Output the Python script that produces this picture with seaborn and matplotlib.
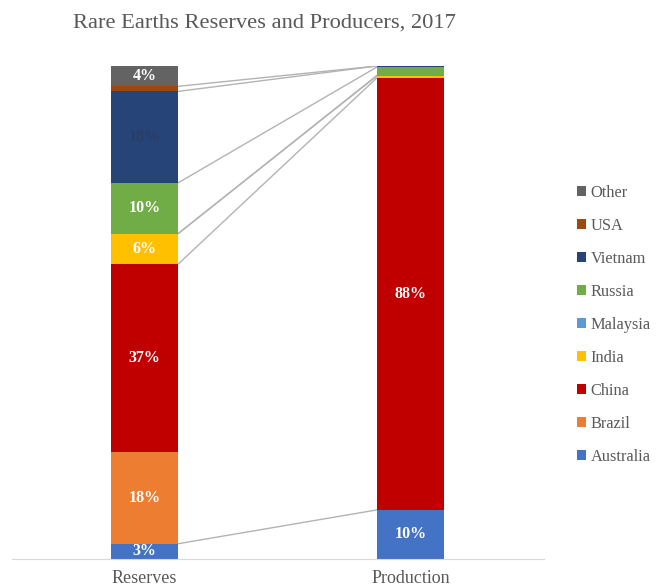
import numpy as np
import pandas as pd
import matplotlib
matplotlib.use("Agg")
import matplotlib.pyplot as plt
import seaborn as sns
from matplotlib.patches import Patch

# data: share of world total (%)
countries = ["Australia", "Brazil", "China", "India", "Malaysia", "Russia", "Vietnam", "USA", "Other"]
reserves = [3, 18, 37, 6, 0, 10, 18, 1, 4]
production = [10, 0, 88, 0.4, 0.1, 1.7, 0.2, 0, 0]
categories = ["Reserves", "Production"]
colors = ["#4472C4", "#ED7D31", "#C00000", "#FFC000", "#5B9BD5",
          "#70AD47", "#264478", "#9E480E", "#636363"]
# series lines between the two bars (none drawn for Brazil / Other)
linked = ["Australia", "China", "India", "Malaysia", "Russia", "Vietnam", "USA"]

df = pd.DataFrame({
    "Country": countries * 2,
    "Category": [categories[0]] * len(countries) + [categories[1]] * len(countries),
    "Value": reserves + production,
})
df["Pct"] = df["Value"] / df.groupby("Category")["Value"].transform("sum") * 100

sns.set_style("white")
plt.rcParams["font.family"] = ["Liberation Serif", "DejaVu Serif"]

fig = plt.figure(figsize=(6.58, 5.88), dpi=100)
ax = fig.add_axes([11.5 / 658, 29 / 588, 532 / 658, 493 / 588])

bar_w = 0.252
bottom = np.zeros(2)
tops = {}
for c, col in zip(countries, colors):
    sub = df[df["Country"] == c].set_index("Category").loc[categories].reset_index()
    sns.barplot(x="Category", y="Pct", data=sub, order=categories, color=col,
                saturation=1, width=bar_w, errorbar=None, linewidth=0,
                bottom=bottom.copy(), ax=ax)
    for i in range(2):
        v = sub["Value"].iloc[i]
        p = sub["Pct"].iloc[i]
        if v >= 3:
            tc = "#2A3D66" if c == "Vietnam" else "white"
            ax.text(i, bottom[i] + p / 2, f"{v:g}%", ha="center", va="center",
                    color=tc, fontsize=11.5, fontweight="bold")
    bottom = bottom + sub["Pct"].values
    tops[c] = bottom.copy()

for c in linked:
    ax.plot([bar_w / 2, 1 - bar_w / 2], tops[c], color="#B3B3B3", lw=1, zorder=0.5)

ax.set_xlim(-0.5, 1.5)
ax.set_ylim(0, 100)
ax.set_xlabel("")
ax.set_ylabel("")
ax.set_yticks([])
for s in ["top", "left", "right"]:
    ax.spines[s].set_visible(False)
ax.spines["bottom"].set_color("#D9D9D9")
ax.tick_params(axis="x", length=0, labelsize=13, labelcolor="#595959", pad=8)

handles = [Patch(facecolor=col, edgecolor="none") for col in colors][::-1]
fig.legend(handles, countries[::-1], loc="upper left",
           bbox_to_anchor=(562 / 658, 1 - 170 / 588), frameon=False,
           fontsize=11.8, labelcolor="#595959", labelspacing=1.04,
           handlelength=0.55, handleheight=0.55, handletextpad=0.3)

fig.text(264 / 658, 1 - 23 / 588, "Rare Earths Reserves and Producers, 2017",
         ha="center", va="center", fontsize=16.2, color="#595959")

fig.savefig("out.png", dpi=100)
